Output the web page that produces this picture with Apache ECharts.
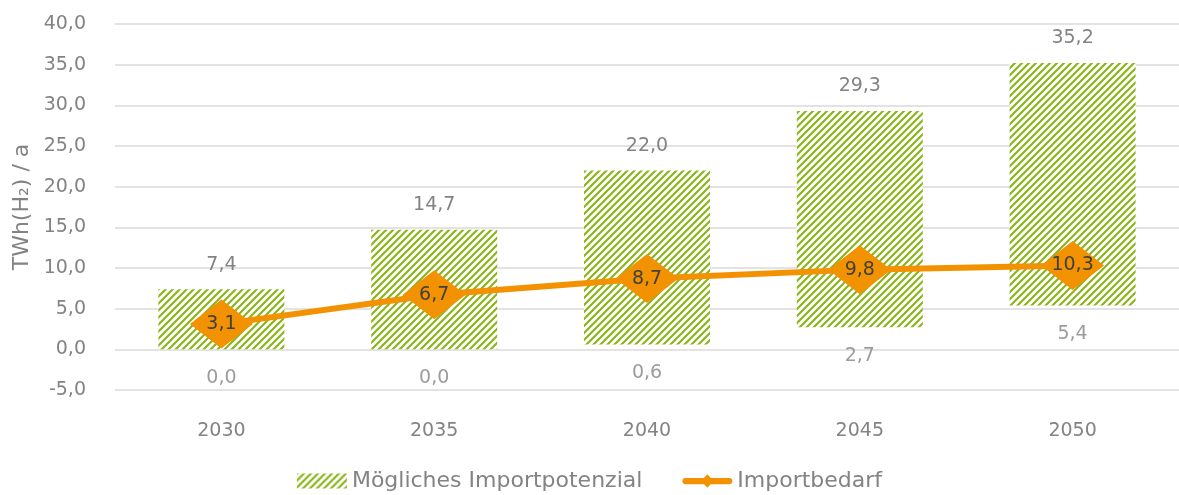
<!DOCTYPE html>
<html>
<head>
<meta charset="utf-8">
<script src="https://cdn.jsdelivr.net/npm/echarts@6/dist/echarts.min.js"></script>
<style>
  html, body { margin: 0; padding: 0; background: #fff; }
  #chart { width: 1179px; height: 495px; }
</style>
</head>
<body>
<div id="chart"></div>
<script>
// Jahre
const years = ['2030', '2035', '2040', '2045', '2050'];
// Mögliches Importpotenzial: untere und obere Grenze (TWh(H2)/a)
const potentialLow = [0.0, 0.0, 0.6, 2.7, 5.4];
const potentialHigh = [7.4, 14.7, 22.0, 29.3, 35.2];
// Importbedarf (TWh(H2)/a)
const demand = [3.1, 6.7, 8.7, 9.8, 10.3];
// Achsenwerte
const yMin = -5, yMax = 40, yStep = 5;

const GREEN = '#8cb41c';
const ORANGE = '#f39200';
const GREY = '#838383';
const FONT = '"DejaVu Sans", "Open Sans", sans-serif';

// diagonal hatching tile for the potential bars
function hatchTile() {
  const s = 7;
  const c = document.createElement('canvas');
  c.width = s; c.height = s;
  const g = c.getContext('2d');
  g.fillStyle = '#ffffff';
  g.fillRect(0, 0, s, s);
  g.strokeStyle = GREEN;
  g.lineWidth = 2.2;
  g.beginPath();
  g.moveTo(0, s); g.lineTo(s, 0);
  g.moveTo(-s / 2, s / 2); g.lineTo(s / 2, -s / 2);
  g.moveTo(s / 2, s * 1.5); g.lineTo(s * 1.5, s / 2);
  g.stroke();
  return c;
}
const hatch = { image: hatchTile(), repeat: 'repeat' };

// legend icon: thick rounded line with a small diamond
const lineDiamondIcon = 'path://M3.5,4 L52.5,4 A3.5,3.5 0 0 1 52.5,11 L3.5,11 A3.5,3.5 0 0 1 3.5,4 Z M28,0 L35,7.5 L28,15 L21,7.5 Z';

const fmt = v => Number(v).toFixed(1).replace('.', ',');

const chart = echarts.init(document.getElementById('chart'), null, { renderer: 'canvas' });
chart.setOption({
  animation: false,
  textStyle: { fontFamily: FONT },
  grid: { left: 115, right: -10, top: 24, bottom: 105, containLabel: false },
  legend: {
    bottom: -2,
    left: 'center',
    itemGap: 40,
    itemWidth: 50,
    itemHeight: 15,
    textStyle: { color: GREY, fontSize: 22, fontFamily: FONT },
    data: [
      { name: 'Mögliches Importpotenzial', icon: 'rect' },
      { name: 'Importbedarf', icon: lineDiamondIcon }
    ]
  },
  xAxis: {
    type: 'category',
    data: years,
    axisLine: { show: false },
    axisTick: { show: false },
    axisLabel: { color: GREY, fontSize: 19, margin: 32, fontFamily: FONT }
  },
  yAxis: {
    type: 'value',
    min: yMin,
    max: yMax,
    interval: yStep,
    name: 'TWh(H₂) / a',
    nameLocation: 'middle',
    nameGap: 82,
    nameTextStyle: { color: GREY, fontSize: 22, fontFamily: FONT },
    axisLine: { show: false },
    axisTick: { show: false },
    axisLabel: { color: GREY, fontSize: 19, margin: 29, formatter: fmt, fontFamily: FONT },
    splitLine: { lineStyle: { color: '#dadada', width: 1.5 } }
  },
  series: [
    {
      name: 'base',
      type: 'bar',
      stack: 'range',
      data: potentialLow,
      barWidth: 126,
      itemStyle: { color: 'transparent' },
      silent: true
    },
    {
      name: 'Mögliches Importpotenzial',
      type: 'bar',
      stack: 'range',
      data: potentialHigh.map((h, i) => +(h - potentialLow[i]).toFixed(1)),
      barWidth: 126,
      itemStyle: { color: hatch },
      label: {
        show: true,
        position: 'top',
        distance: 15,
        color: GREY,
        fontSize: 19,
        fontFamily: FONT,
        formatter: p => fmt(potentialHigh[p.dataIndex])
      }
    },
    {
      name: 'low-labels',
      type: 'scatter',
      data: potentialLow,
      symbolSize: 1,
      itemStyle: { color: 'transparent' },
      silent: true,
      label: {
        show: true,
        position: 'bottom',
        distance: 19,
        color: GREY,
        fontSize: 19,
        fontFamily: FONT,
        formatter: p => fmt(p.value)
      }
    },
    {
      name: 'Importbedarf',
      type: 'line',
      data: demand,
      z: 5,
      symbol: 'diamond',
      symbolSize: [63, 49],
      lineStyle: { color: ORANGE, width: 6 },
      itemStyle: { color: ORANGE },
      label: {
        show: true,
        position: 'inside',
        color: '#404040',
        fontSize: 19,
        fontFamily: FONT,
        formatter: p => fmt(p.value)
      }
    }
  ]
});
</script>
</body>
</html>
